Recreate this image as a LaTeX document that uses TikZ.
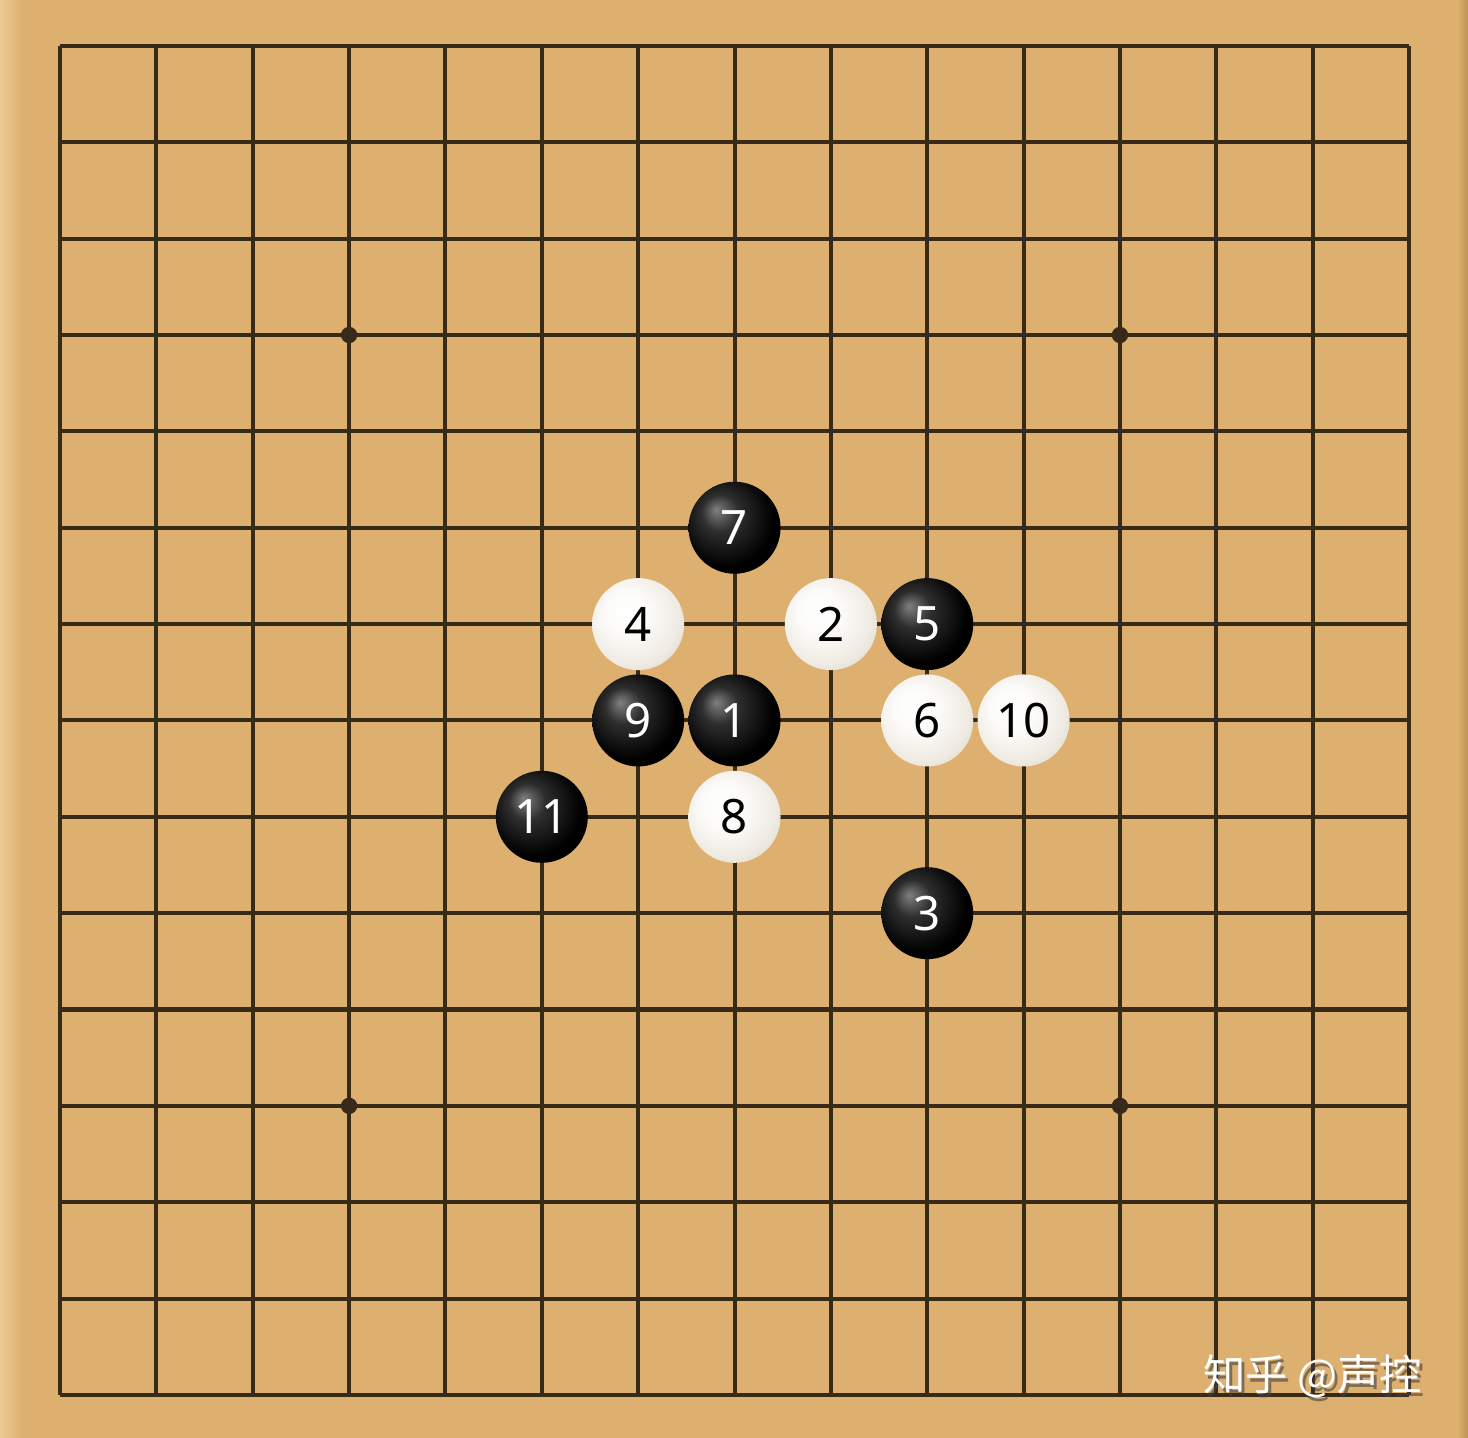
\documentclass[tikz,border=0pt]{standalone}
\usepackage{fontspec}
\setmainfont{Noto Sans}
\newfontfamily\cjk{Noto Sans CJK SC}
\usetikzlibrary{positioning}

\definecolor{boardwood}{RGB}{222,176,112}
\definecolor{boardlight}{RGB}{236,202,150}
\definecolor{boarddark}{RGB}{190,146,88}
\definecolor{gridline}{RGB}{56,42,24}
\definecolor{whiterim}{RGB}{190,174,140}

% radial shadings for the stones, highlight to the upper left
\pgfdeclareradialshading{blackshade}{\pgfpoint{-10bp}{10bp}}{%
  color(0bp)=(black!50!white); color(10bp)=(black!82); color(26bp)=(black);
  color(50bp)=(black)}
\pgfdeclareradialshading{whiteshade}{\pgfpoint{-8bp}{8bp}}{%
  color(0bp)=(white); color(12bp)=(white!95!whiterim); color(26bp)=(white!75!whiterim);
  color(40bp)=(white!35!whiterim); color(50bp)=(whiterim!80!black)}

\tikzset{
    stone/.style={
           circle,
           minimum size=0.955cm,
           inner sep=0pt,
           font=\fontsize{14}{16}\selectfont,
           text centered,
           },
    blackstone/.style={stone, shading=blackshade, text=white},
    whitestone/.style={stone, shading=whiteshade, text=black},
    starpoint/.style={circle, fill=gridline, minimum size=0.17cm, inner sep=0pt},
    watermark/.style={font=\cjk\fontsize{12.5}{14}\selectfont},
}

\begin{document}
\begin{tikzpicture}

 % board and margins
 \useasboundingbox (-0.623,0.477) rectangle (14.612,-14.446);
 \fill[boardwood] (-0.623,0.477) rectangle (14.612,-14.446);
 \shade[left color=boardlight, right color=boardwood]
  (-0.623,0.477) rectangle (-0.4,-14.446);
 \shade[left color=boardwood, right color=boarddark]
  (14.5,0.477) rectangle (14.612,-14.446);

 % 15 x 15 grid
 \foreach \i in {0,...,14} {
  \draw[gridline, line width=1.2pt] (\i,0) -- (\i,-14);
  \draw[gridline, line width=1.2pt] (0,-\i) -- (14,-\i);
 }

 % star points
 \foreach \x/\y in {3/3, 11/3, 3/11, 11/11}
  \node[starpoint] (star\x-\y) at (\x,-\y) {};

 % the stones, in the order they were played
 \node[blackstone] (s1)  at (7,-7) {1};
 \node[whitestone] (s2)  at (8,-6) {2};
 \node[blackstone] (s3)  at (9,-9) {3};
 \node[whitestone] (s4)  at (6,-6) {4};
 \node[blackstone] (s5)  at (9,-6) {5};
 \node[whitestone] (s6)  at (9,-7) {6};
 \node[blackstone] (s7)  at (7,-5) {7};
 \node[whitestone] (s8)  at (7,-8) {8};
 \node[blackstone] (s9)  at (6,-7) {9};
 \node[whitestone] (s10) at (10,-7) {10};
 \node[blackstone] (s11) at (5,-8) {11};

 % watermark
 \node[watermark, text=black!75, opacity=0.6]
  (markshadow) at (13.03,-13.85) {知乎 @声控};
 \node[watermark, text=white]
  (mark) at (13.0,-13.81) {知乎 @声控};
\end{tikzpicture}
\end{document}
